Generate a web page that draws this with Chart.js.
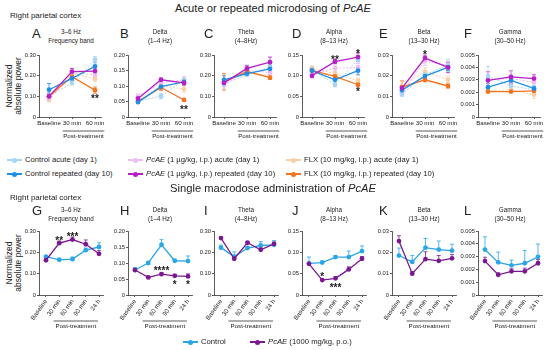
<!DOCTYPE html>
<html>
<head>
<meta charset="utf-8">
<script src="https://cdn.jsdelivr.net/npm/chart.js@4.4.1/dist/chart.umd.min.js"></script>
<style>
  body { margin: 0; width: 550px; height: 350px; background: #fff; position: relative; overflow: hidden;
         font-family: "Liberation Sans", Arial, sans-serif; color: #222; }
  .t { position: absolute; white-space: nowrap; line-height: 1; }
  canvas { position: absolute; }
  .ytitle { position: absolute; text-align: center; font-size: 8.5px; line-height: 8.5px;
            transform: translate(-50%, -50%) rotate(-90deg); white-space: nowrap; }
  .lg { position: absolute; font-size: 7.7px; white-space: nowrap; line-height: 1; }
  .lg .mk { position: absolute; width: 15px; height: 6px; }
  .lg .mk i { position: absolute; left: 0; right: 0; top: 2.4px; height: 1.3px; }
  .lg .mk b { position: absolute; left: 5px; top: 0.5px; width: 5px; height: 5px; border-radius: 50%; }
</style>
</head>
<body>
<script>
const FONT = '"Liberation Sans", Arial, sans-serif';

// shared panel info
const lettersTop = ['A', 'B', 'C', 'D', 'E', 'F'];
const lettersBottom = ['G', 'H', 'I', 'J', 'K', 'L'];
const bandNames = ['3–6 Hz', 'Delta', 'Theta', 'Alpha', 'Beta', 'Gamma'];
const bandRanges = ['Frequency band', '(1–4 Hz)', '(4–8Hz)', '(8–13 Hz)', '(13–30 Hz)', '(30–50 Hz)'];
const yMax = [0.30, 0.20, 0.30, 0.15, 0.03, 0.005];
const yStep = [0.10, 0.05, 0.10, 0.05, 0.01, 0.001];
const yDecimals = [2, 2, 2, 2, 2, 3];

// top row: acute / repeated microdosing (one inner array per panel A–F)
const timesTop = ['Baseline', '30 min', '60 min'];
const ctrlAcute = [[0.100, 0.165, 0.278], [0.052, 0.067, 0.120], [0.160, 0.205, 0.240], [0.115, 0.078, 0.138], [0.0110, 0.0205, 0.0250], [0.0033, 0.0025, 0.0022]];
const pcaeAcute = [[0.090, 0.215, 0.205], [0.065, 0.110, 0.120], [0.155, 0.225, 0.215], [0.105, 0.118, 0.120], [0.0120, 0.0270, 0.0250], [0.0030, 0.0031, 0.0028]];
const flxAcute = [[0.082, 0.212, 0.185], [0.058, 0.100, 0.090], [0.170, 0.215, 0.200], [0.118, 0.105, 0.088], [0.0150, 0.0220, 0.0180], [0.0021, 0.0022, 0.0018]];
const ctrlRep = [[0.132, 0.187, 0.245], [0.048, 0.098, 0.113], [0.180, 0.210, 0.233], [0.112, 0.090, 0.112], [0.0130, 0.0198, 0.0240], [0.0024, 0.00295, 0.0023]];
const pcaeRep = [[0.100, 0.220, 0.222], [0.060, 0.120, 0.110], [0.165, 0.235, 0.265], [0.100, 0.134, 0.145], [0.0140, 0.0285, 0.0240], [0.00295, 0.00323, 0.0031]];
const flxRep = [[0.100, 0.195, 0.130], [0.050, 0.095, 0.055], [0.170, 0.220, 0.190], [0.113, 0.098, 0.078], [0.0145, 0.0180, 0.0150], [0.00205, 0.00205, 0.0021]];

const ctrlAcuteErr = [[0.012, 0.010, 0.015], [0.006, 0.008, 0.010], [0.010, 0.010, 0.015], [0.006, 0.005, 0.008], [0.0010, 0.0020, 0.0030], [0.0008, 0.0005, 0.0003]];
const pcaeAcuteErr = [[0.010, 0.012, 0.012], [0.010, 0.010, 0.010], [0.008, 0.010, 0.010], [0.005, 0.008, 0.010], [0.0010, 0.0020, 0.0020], [0.0006, 0.0006, 0.0005]];
const flxAcuteErr = [[0.008, 0.015, 0.012], [0.006, 0.012, 0.010], [0.010, 0.010, 0.010], [0.006, 0.006, 0.006], [0.0020, 0.0020, 0.0015], [0.0002, 0.0003, 0.0003]];
const ctrlRepErr = [[0.030, 0.010, 0.020], [0.005, 0.010, 0.010], [0.020, 0.008, 0.015], [0.010, 0.010, 0.010], [0.0010, 0.0015, 0.0015], [0.0003, 0.0003, 0.0002]];
const pcaeRepErr = [[0.015, 0.015, 0.015], [0.010, 0.006, 0.008], [0.010, 0.015, 0.025], [0.005, 0.005, 0.010], [0.0010, 0.0015, 0.0025], [0.0007, 0.0005, 0.0003]];
const flxRepErr = [[0.010, 0.015, 0.015], [0.005, 0.010, 0.005], [0.040, 0.010, 0.008], [0.005, 0.005, 0.005], [0.0030, 0.0010, 0.0010], [0.0001, 0.0001, 0.0001]];

// significance marks: [panel, time index, value, text]
const starsTop = [[0, 2, 0.096, '**'], [1, 2, 0.029, '**'], [3, 1, 0.143, '**'], [3, 2, 0.157, '*'], [3, 2, 0.065, '*'], [4, 1, 0.031, '*']];

// bottom row: single macrodose (panels G–L)
const timesBottom = ['Baseline', '30 min', '60 min', '90 min', '24 h'];
const ctrlMacro = [[0.180, 0.165, 0.168, 0.210, 0.225], [0.078, 0.100, 0.157, 0.107, 0.106], [0.222, 0.180, 0.220, 0.232, 0.235], [0.074, 0.076, 0.089, 0.089, 0.103], [0.0185, 0.0155, 0.0222, 0.0213, 0.0208], [0.00355, 0.00255, 0.00232, 0.00248, 0.00298]];
const pcaeMacro = [[0.163, 0.243, 0.260, 0.238, 0.193], [0.078, 0.055, 0.065, 0.060, 0.058], [0.267, 0.170, 0.245, 0.212, 0.240], [0.073, 0.035, 0.039, 0.060, 0.085], [0.0253, 0.0100, 0.0168, 0.0160, 0.0172], [0.00265, 0.00158, 0.00185, 0.00185, 0.00248]];
const ctrlMacroErr = [[0.005, 0.008, 0.010, 0.010, 0.020], [0.008, 0.005, 0.016, 0.004, 0.016], [0.012, 0.022, 0.008, 0.018, 0.020], [0.015, 0.004, 0.003, 0.014, 0.012], [0.0035, 0.0030, 0.0043, 0.0040, 0.0030], [0.0010, 0.0008, 0.0004, 0.0010, 0.0010]];
const pcaeMacroErr = [[0.008, 0.010, 0.012, 0.020, 0.015], [0.005, 0.004, 0.004, 0.005, 0.008], [0.006, 0.005, 0.005, 0.008, 0.008], [0.002, 0.002, 0.004, 0.006, 0.005], [0.0025, 0.0010, 0.0035, 0.0025, 0.0018], [0.0003, 0.00015, 0.0002, 0.00025, 0.0003]];
const starsBottom = [[0, 1, 0.262, '**'], [0, 2, 0.281, '***'], [1, 2, 0.082, '****'], [1, 3, 0.039, '*'], [1, 4, 0.039, '*'], [3, 1, 0.048, '*'], [3, 2, 0.022, '***']];

// colours
const C_CTRL_REP = '#1f8ee6', C_PCAE_REP = '#b41fc8', C_FLX_REP = '#f4731f';
const C_CTRL_AC = '#a9d4f5', C_PCAE_AC = '#ecbcf2', C_FLX_AC = '#f9cfaa';
const C_CTRL = '#2aa6e6', C_PCAE = '#7a1890';

// layout
const axisX = [39, 128, 214, 302, 392, 478];
const letterX = [32, 120, 204, 292, 379, 464];
const YW = 26, PADT = 6, PADR = 6;

function addText(html, css) {
  const d = document.createElement('div');
  d.className = 't';
  d.innerHTML = html;
  Object.assign(d.style, css);
  document.body.appendChild(d);
  return d;
}

const extras = {
  id: 'extras',
  beforeDatasetsDraw(chart, args, o) {
    const ctx = chart.ctx, xs = chart.scales.x, ys = chart.scales.y;
    chart.data.datasets.forEach(ds => {
      ctx.save();
      ctx.strokeStyle = ds.borderColor;
      ctx.lineWidth = 0.8;
      ds.data.forEach((p, i) => {
        const e = ds.err[i];
        const x = xs.getPixelForValue(p.x);
        const yTop = ys.getPixelForValue(p.y + e);
        const yBot = ys.getPixelForValue(o.upOnly ? p.y : p.y - e);
        ctx.beginPath();
        ctx.moveTo(x, yBot); ctx.lineTo(x, yTop);
        ctx.moveTo(x - 2, yTop); ctx.lineTo(x + 2, yTop);
        if (!o.upOnly) { ctx.moveTo(x - 2, yBot); ctx.lineTo(x + 2, yBot); }
        ctx.stroke();
      });
      ctx.restore();
    });
  },
  afterDatasetsDraw(chart, args, o) {
    const ctx = chart.ctx, xs = chart.scales.x, ys = chart.scales.y;
    ctx.save();
    ctx.fillStyle = '#222';
    ctx.font = 'bold 10px ' + FONT;
    ctx.textAlign = 'center';
    ctx.textBaseline = 'middle';
    o.stars.forEach(s => ctx.fillText(s[3], xs.getPixelForValue(s[1]), ys.getPixelForValue(s[2]) + 2.5));
    ctx.restore();
  },
  afterDraw(chart, args, o) {
    const ctx = chart.ctx, xs = chart.scales.x, area = chart.chartArea;
    const n = o.labels.length;
    ctx.save();
    ctx.font = o.fontSize + 'px ' + FONT;
    let x1, x2;
    if (o.upOnly) {
      x1 = (xs.getPixelForValue(0) + xs.getPixelForValue(1)) / 2 + 1;
      x2 = xs.getPixelForValue(n - 1) - 1;
    } else {
      x1 = xs.getPixelForValue(1) - ctx.measureText(o.labels[1]).width / 2;
      x2 = xs.getPixelForValue(n - 1) + ctx.measureText(o.labels[n - 1]).width / 2;
    }
    const y = area.bottom + o.lineOffset;
    ctx.strokeStyle = '#333';
    ctx.lineWidth = 0.8;
    ctx.beginPath(); ctx.moveTo(x1, y); ctx.lineTo(x2, y); ctx.stroke();
    ctx.fillStyle = '#222';
    ctx.textAlign = 'center';
    ctx.textBaseline = 'middle';
    ctx.font = '6.2px ' + FONT;
    ctx.fillText('Post-treatment', (x1 + x2) / 2, y + 5);
    ctx.restore();
  }
};

function series(vals, err, color, dashed, order) {
  return {
    data: vals.map((v, i) => ({ x: i, y: v })),
    err: err,
    borderColor: color,
    backgroundColor: color,
    pointBackgroundColor: color,
    pointBorderWidth: 0,
    pointRadius: 2.4,
    borderWidth: dashed ? 1 : 1.3,
    borderDash: dashed ? [2, 1.5] : [],
    order: order
  };
}

function makePanel(p, top, plotH, plotW, xh, labels, datasets, stars, xmin, xmax, rotated) {
  const c = document.createElement('canvas');
  const w = YW + plotW + PADR, h = PADT + plotH + xh;
  c.width = w; c.height = h;
  c.style.width = w + 'px'; c.style.height = h + 'px';
  c.style.left = (axisX[p] - YW) + 'px';
  c.style.top = (top - PADT) + 'px';
  document.body.appendChild(c);
  const axisGrid = { drawOnChartArea: false, drawTicks: true, tickLength: 2, color: '#333', lineWidth: 0.8 };
  new Chart(c, {
    type: 'line',
    data: { datasets: datasets },
    options: {
      responsive: false, animation: false, devicePixelRatio: 1,
      layout: { padding: { top: PADT, right: PADR, left: 0, bottom: 0 } },
      plugins: {
        legend: { display: false }, tooltip: { enabled: false },
        extras: { stars: stars, upOnly: rotated, labels: labels, fontSize: 6.2, lineOffset: rotated ? 26 : 14 }
      },
      scales: {
        x: {
          type: 'linear', min: xmin, max: xmax,
          afterBuildTicks: s => { s.ticks = labels.map((_, i) => ({ value: i })); },
          afterFit: s => { s.height = xh; },
          grid: axisGrid, border: { color: '#333', width: 0.8 },
          ticks: { autoSkip: false, maxRotation: rotated ? 55 : 0, minRotation: rotated ? 55 : 0, padding: 1,
                   color: '#222', font: { size: 6.2, family: FONT }, callback: v => labels[v] }
        },
        y: {
          min: 0, max: yMax[p],
          afterFit: s => { s.width = YW; },
          grid: axisGrid, border: { color: '#333', width: 0.8 },
          ticks: { stepSize: yStep[p], padding: 1, color: '#222', font: { size: 5.8, family: FONT },
                   callback: v => v === 0 ? '0' : v.toFixed(yDecimals[p]) }
        }
      }
    },
    plugins: [extras]
  });
}

function yTitle(y) {
  const d = document.createElement('div');
  d.className = 'ytitle';
  d.innerHTML = 'Normalized<br>absolute power';
  d.style.left = '13px'; d.style.top = y + 'px';
  document.body.appendChild(d);
}

function legendItem(x, y, color, html) {
  const d = document.createElement('div');
  d.className = 'lg';
  d.style.left = x + 'px'; d.style.top = (y - 4) + 'px';
  d.innerHTML = '<span class="mk" style="left:0;top:1px"><i style="background:' + color + '"></i><b style="background:' + color + '"></b></span>' +
                '<span style="position:absolute;left:18px;top:0">' + html + '</span>';
  document.body.appendChild(d);
}

// ---------- top block ----------
addText('Acute or repeated microdosing of <i>PcAE</i>', { left: '0', width: '546px', textAlign: 'center', top: '3px', fontSize: '11.2px' });
addText('Right parietal cortex', { left: '10px', top: '12px', fontSize: '8px' });
yTitle(86);

for (let p = 0; p < 6; p++) {
  addText(lettersTop[p], { left: letterX[p] + 'px', top: '27px', fontSize: '13px' });
  const cx = axisX[p] + 32;
  addText(bandNames[p] + '<br>' + bandRanges[p], { left: (cx - 40) + 'px', width: '80px', textAlign: 'center', top: '28px', fontSize: '6.3px', lineHeight: '8.5px' });
  const ds = [
    series(ctrlRep[p], ctrlRepErr[p], C_CTRL_REP, false, 2),
    series(pcaeRep[p], pcaeRepErr[p], C_PCAE_REP, false, 1),
    series(flxRep[p], flxRepErr[p], C_FLX_REP, false, 3),
    series(ctrlAcute[p], ctrlAcuteErr[p], C_CTRL_AC, true, 4),
    series(pcaeAcute[p], pcaeAcuteErr[p], C_PCAE_AC, true, 5),
    series(flxAcute[p], flxAcuteErr[p], C_FLX_AC, true, 6)
  ];
  makePanel(p, 55, 62, 62, 30, timesTop, ds, starsTop.filter(s => s[0] === p), -10 / 23, 2 + 6 / 23, false);
}

legendItem(7, 160, C_CTRL_AC, 'Control acute (day 1)');
legendItem(128, 160, C_PCAE_AC, '<i>PcAE</i> (1 µg/kg, i.p.) acute (day 1)');
legendItem(286, 160, C_FLX_AC, 'FLX (10 mg/kg, i.p.) acute (day 1)');
legendItem(7, 174, C_CTRL_REP, 'Control repeated (day 10)');
legendItem(128, 174, C_PCAE_REP, '<i>PcAE</i> (1 µg/kg, i.p.) repeated (day 10)');
legendItem(286, 174, C_FLX_REP, 'FLX (10 mg/kg, i.p.) repeated (day 10)');

// ---------- bottom block ----------
addText('Single macrodose administration of <i>PcAE</i>', { left: '0', width: '546px', textAlign: 'center', top: '183px', fontSize: '11.2px' });
addText('Right parietal cortex', { left: '10px', top: '194px', fontSize: '8px' });
yTitle(263);

for (let p = 0; p < 6; p++) {
  addText(lettersBottom[p], { left: letterX[p] + 'px', top: '204px', fontSize: '13px' });
  const cx = axisX[p] + 32;
  addText(bandNames[p] + '<br>' + bandRanges[p], { left: (cx - 40) + 'px', width: '80px', textAlign: 'center', top: '206px', fontSize: '6.3px', lineHeight: '8.5px' });
  const ds = [
    series(ctrlMacro[p], ctrlMacroErr[p], C_CTRL, false, 2),
    series(pcaeMacro[p], pcaeMacroErr[p], C_PCAE, false, 1)
  ];
  makePanel(p, 231, 64, 64, 40, timesBottom, ds, starsBottom.filter(s => s[0] === p), -7 / 13.3, 4 + 4 / 13.3, true);
}

legendItem(183, 342, C_CTRL, 'Control');
legendItem(250, 342, C_PCAE, '<i>PcAE</i> (1000 mg/kg, p.o.)');
</script>
</body>
</html>
